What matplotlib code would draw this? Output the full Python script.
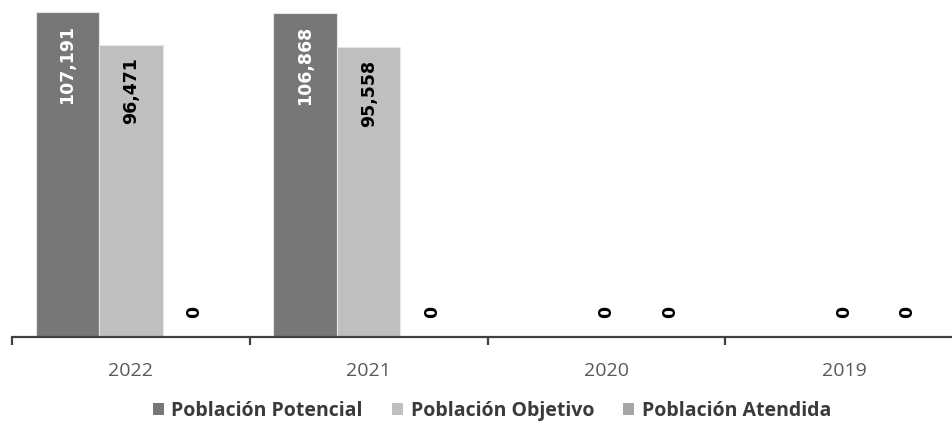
import numpy as np
from matplotlib import pyplot as plt
from matplotlib.patches import Patch

years = ["2022", "2021", "2020", "2019"]
series = ["Población Potencial", "Población Objetivo", "Población Atendida"]
potencial = [107191, 106868, 0, np.nan]
objetivo = [96471, 95558, 0, 0]
atendida = [0, 0, 0, 0]
values = [potencial, objetivo, atendida]
colors = ["#777777", "#bfbfbf", "#a5a5a5"]

#############################################################
# Figure
#############################################################
fig = plt.figure(figsize=(9.52, 4.26), dpi=100)
ax = fig.add_axes([12/952, 89/426, 951/952, 337/426])

x = np.arange(len(years))
w = 0.267
for i, (vals, col) in enumerate(zip(values, colors)):
    v = np.nan_to_num(np.array(vals, dtype=float))
    ax.bar(x + (i - 1)*w, v, w, color=col, edgecolor="#e6e6e6", linewidth=0.8)
    for j, val in enumerate(vals):
        if np.isnan(val):
            continue
        xp = x[j] + (i - 1)*w
        if val > 0:
            ax.annotate(f"{int(val):,}", (xp, val), xytext=(0, -9), textcoords="offset points",
                        rotation=90, ha="center", va="top", fontsize=12.5, fontweight="bold",
                        color="white" if i == 0 else "black", family="DejaVu Sans")
        else:
            ax.annotate("0", (xp, 0), xytext=(0, 18), textcoords="offset points",
                        rotation=90, ha="center", va="center", fontsize=12.5, fontweight="bold",
                        color="white" if i == 0 else "black", family="DejaVu Sans")

ax.set_xlim(-0.5, len(years) - 0.5)
ax.set_ylim(0, 107191*337/325)
for s in ["top", "right", "left"]:
    ax.spines[s].set_visible(False)
ax.spines["bottom"].set_color("#404040")
ax.spines["bottom"].set_linewidth(1.6)
ax.set_yticks([])
ax.set_xticks(x)
ax.set_xticklabels(years, fontsize=14, color="#595959", family="Open Sans")
ax.tick_params(axis="x", length=0, pad=18)
ax.set_xticks(np.arange(len(years) + 1) - 0.5, minor=True)
ax.tick_params(axis="x", which="minor", length=6, width=1.6, color="#404040", direction="out")

handles = [Patch(facecolor=c, edgecolor="none") for c in colors]
fig.legend(handles, series, loc="center", bbox_to_anchor=(492/952, 1 - 411/426), ncol=3,
           frameon=False, handlelength=0.55, handleheight=0.55, handletextpad=0.4, columnspacing=1.5,
           prop={"family": "Open Sans", "size": 14, "weight": "bold"}, labelcolor="#3a3a3a")

fig.savefig("out.png", dpi=100)
